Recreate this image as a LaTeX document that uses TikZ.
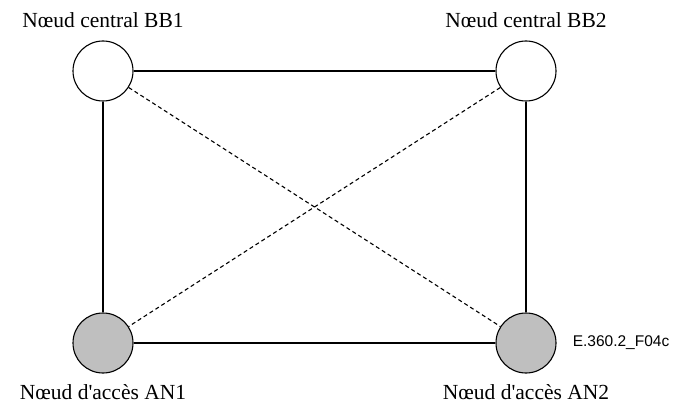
\documentclass[tikz,border=0pt]{standalone}
\usepackage{fontspec}
\setmainfont{Liberation Serif}
% serif face without the TeX quote mapping, so the apostrophe stays straight
\newfontfamily\labelserif{Liberation Serif}[Ligatures=ResetAll]
\newfontfamily\labelsans{Liberation Sans}
\begin{document}
\begin{tikzpicture}[x=1pt,y=-1pt,
  nodecircle/.style={circle,draw=black,line width=1.1pt,minimum size=60pt,inner sep=0pt},
  core/.style={nodecircle,fill=white},
  access/.style={nodecircle,fill=black!25},
  link/.style={line width=1.2pt},
  backup/.style={line width=1.1pt,dash pattern=on 4pt off 3pt},
  caption/.style={font=\labelserif\fontsize{21.5}{24}\selectfont,anchor=base,inner sep=0pt}]
  \useasboundingbox (0,0) rectangle (674,403);
  % backbone and access nodes
  \node[core]   (bb1) at (103,71)  {};
  \node[core]   (bb2) at (526,71)  {};
  \node[access] (an1) at (103,343) {};
  \node[access] (an2) at (526,343) {};
  % solid links
  \draw[link] (bb1) -- (bb2);
  \draw[link] (bb1) -- (an1);
  \draw[link] (bb2) -- (an2);
  \draw[link] (an1) -- (an2);
  % dashed cross links
  \draw[backup] (bb1) -- (an2);
  \draw[backup] (bb2) -- (an1);
  % labels
  \node[caption] (lbb1) at (103,28)  {Nœud central BB1};
  \node[caption] (lbb2) at (526,28)  {Nœud central BB2};
  \node[caption] (lan1) at (103,399) {Nœud d'accès AN1};
  \node[caption] (lan2) at (526,399) {Nœud d'accès AN2};
  \node[font=\labelsans\fontsize{15.5}{18}\selectfont,inner sep=0pt] (fig) at (621,343) {E.360.2\_F04c};
\end{tikzpicture}
\end{document}
